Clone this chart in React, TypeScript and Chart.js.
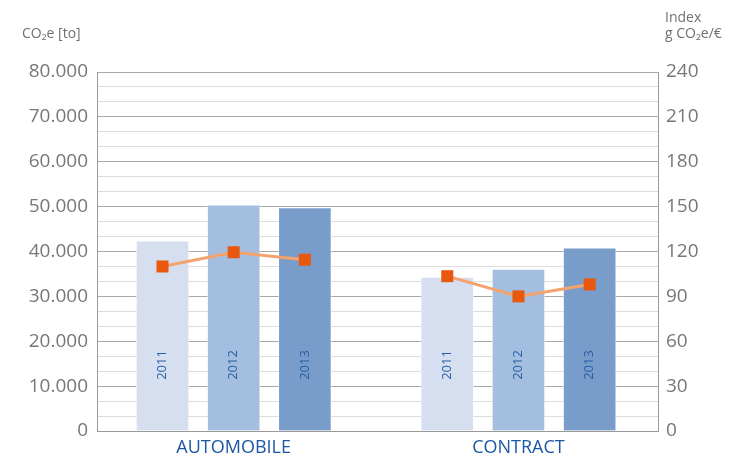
import React, { useEffect, useRef } from "react";
import { Chart, registerables } from "chart.js";

Chart.register(...registerables);

const categories = ["AUTOMOBILE", "CONTRACT"];
const years = ["2011", "2012", "2013"];
// CO2e [to] per category, per year
const automobileEmissions = [42400, 50400, 49800];
const contractEmissions = [34300, 36100, 40800];
// Index g CO2e/€ per category, per year
const automobileIndex = [110, 119.5, 114.5];
const contractIndex = [103.5, 90, 98];
const leftTicks = [0, 10000, 20000, 30000, 40000, 50000, 60000, 70000, 80000];
const rightTicks = [0, 30, 60, 90, 120, 150, 180, 210, 240];

const yearColors = ["#d5dff0", "#a4bedf", "#789dca"];
const FONT = "'Open Sans', 'DejaVu Sans', sans-serif";

const fmt = (v: number) =>
  String(Math.round(v)).replace(/\B(?=(\d{3})+(?!\d))/g, ".");

export default function App() {
  const ref = useRef<HTMLCanvasElement | null>(null);

  useEffect(() => {
    if (!ref.current) return;
    const emissions = [automobileEmissions, contractEmissions];
    const indices = [automobileIndex, contractIndex];
    const xOf = (g: number, i: number) => g * 4 + i + 1;

    const barData: { x: number; y: number }[] = [];
    const barColors: string[] = [];
    emissions.forEach((arr, g) =>
      arr.forEach((v, i) => {
        barData.push({ x: xOf(g, i), y: v });
        barColors.push(yearColors[i]);
      })
    );

    const lineSets = indices.map((arr, g) => ({
      type: "line" as const,
      label: "Index " + categories[g],
      data: arr.map((v, i) => ({ x: xOf(g, i), y: v })),
      yAxisID: "y1",
      borderColor: "#f5a36c",
      borderWidth: 3,
      pointStyle: "rect" as const,
      pointRadius: 8.5,
      pointBackgroundColor: "#e8590f",
      pointBorderWidth: 0,
      pointBorderColor: "#e8590f",
      tension: 0,
      order: 0,
    }));

    const labelPlugin = {
      id: "extraText",
      afterDatasetsDraw(chart: any) {
        const ctx = chart.ctx;
        const meta = chart.getDatasetMeta(0);
        const bottom = chart.chartArea.bottom;
        ctx.save();
        ctx.fillStyle = "#2a5ea8";
        ctx.font = `13px ${FONT}`;
        ctx.textAlign = "center";
        ctx.textBaseline = "middle";
        meta.data.forEach((el: any, idx: number) => {
          ctx.save();
          ctx.translate(el.x, bottom - 66);
          ctx.rotate(-Math.PI / 2);
          ctx.fillText(years[idx % years.length], 0, 0);
          ctx.restore();
        });
        ctx.restore();
      },
      afterDraw(chart: any) {
        const ctx = chart.ctx;
        ctx.save();
        ctx.fillStyle = "#707070";
        ctx.font = `14px ${FONT}`;
        ctx.textAlign = "left";
        ctx.textBaseline = "alphabetic";
        ctx.fillText("CO₂e [to]", 22, 38);
        ctx.fillText("Index", 665, 22);
        ctx.fillText("g CO₂e/€", 665, 38);
        ctx.restore();
      },
    };

    const chart = new Chart(ref.current, {
      type: "bar",
      data: {
        datasets: [
          {
            type: "bar",
            label: "CO2e",
            data: barData,
            backgroundColor: barColors,
            borderColor: "rgba(255,255,255,0.5)",
            borderWidth: 1,
            barThickness: 53,
            yAxisID: "y",
            order: 1,
          } as any,
          ...lineSets,
        ],
      },
      options: {
        animation: false,
        responsive: false,
        maintainAspectRatio: false,
        layout: { padding: { top: 72, left: 0, right: 0, bottom: 0 } },
        plugins: {
          legend: { display: false },
          tooltip: { enabled: false },
          title: { display: false },
        },
        scales: {
          x: {
            type: "linear",
            offset: false,
            min: 0.08,
            max: 7.96,
            afterFit(scale: any) {
              scale.height = 29;
            },
            afterBuildTicks(scale: any) {
              scale.ticks = categories.map((_, g) => ({ value: xOf(g, 1) }));
            },
            ticks: {
              autoSkip: false,
              maxRotation: 0,
              color: "#1b57a3",
              font: { family: FONT, size: 18 },
              padding: 6,
              callback: (v: any) => {
                const g = Math.round((Number(v) - 2) / 4);
                return categories[g] ?? "";
              },
            },
            grid: { display: false, drawTicks: false, offset: false },
            border: { display: true, color: "#9a9a9a", width: 1 },
          },
          y: {
            type: "linear",
            position: "left",
            min: 0,
            max: 80000,
            afterFit(scale: any) {
              scale.width = 97;
            },
            afterBuildTicks(scale: any) {
              scale.ticks = leftTicks.map((v) => ({ value: v }));
            },
            ticks: {
              autoSkip: false,
              color: "#777777",
              font: { family: FONT, size: 19 },
              padding: 9,
              callback: (v: any) => fmt(Number(v)),
            },
            grid: { color: "#a8a8a8", lineWidth: 1, drawTicks: false },
            border: { display: true, color: "#9a9a9a", width: 1 },
          },
          y1: {
            type: "linear",
            position: "right",
            min: 0,
            max: 240,
            afterFit(scale: any) {
              scale.width = 74;
            },
            afterBuildTicks(scale: any) {
              const t: { value: number }[] = [];
              for (let v = 0; v <= 240; v += 10) t.push({ value: v });
              scale.ticks = t;
            },
            ticks: {
              autoSkip: false,
              color: "#777777",
              font: { family: FONT, size: 19 },
              padding: 8,
              callback: (v: any) =>
                rightTicks.includes(Number(v)) ? String(v) : "",
            },
            grid: {
              drawTicks: false,
              color: (c: any) =>
                rightTicks.includes(c.tick?.value) ? "rgba(0,0,0,0)" : "#dcdcdc",
              lineWidth: 1,
            },
            border: { display: true, color: "#9a9a9a", width: 1 },
          },
        },
      },
      plugins: [labelPlugin],
    } as any);

    return () => chart.destroy();
  }, []);

  return (
    <div style={{ position: "fixed", left: 0, top: 0, width: 732, height: 460, background: "#fff" }}>
      <canvas ref={ref} width={732} height={460} style={{ width: 732, height: 460, display: "block" }} />
    </div>
  );
}
